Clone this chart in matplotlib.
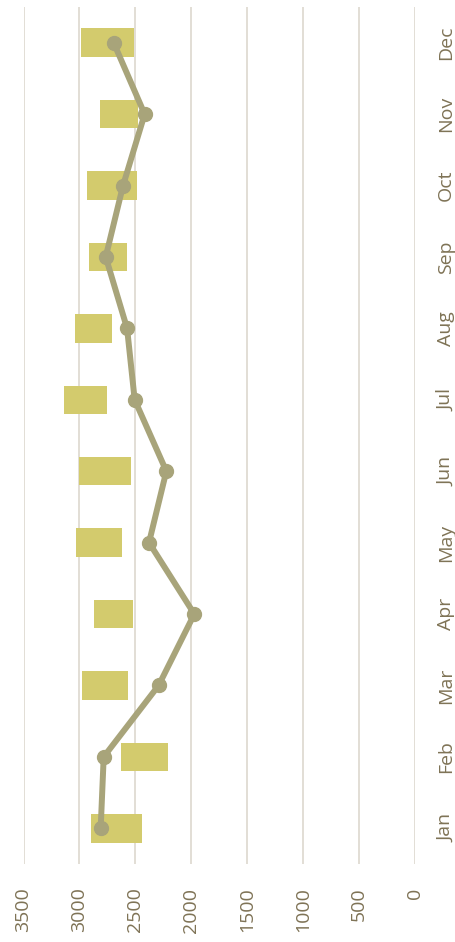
import numpy as np
import matplotlib
matplotlib.use("Agg")
import matplotlib.pyplot as plt

# monthly data
months = ["Jan", "Feb", "Mar", "Apr", "May", "Jun", "Jul", "Aug", "Sep", "Oct", "Nov", "Dec"]
bar_low = [2440, 2212, 2563, 2521, 2619, 2536, 2750, 2712, 2578, 2488, 2479, 2512]
bar_high = [2899, 2625, 2976, 2869, 3030, 3006, 3140, 3042, 2914, 2929, 2819, 2982]
line_vals = [2810, 2783, 2292, 1973, 2378, 2223, 2506, 2574, 2765, 2610, 2417, 2694]
value_ticks = [0, 500, 1000, 1500, 2000, 2500, 3000, 3500]

BAR_COLOR = "#D3CB6D"
LINE_COLOR = "#A8A47A"
GRID_COLOR = "#E2DED5"
TEXT_COLOR = "#7F7356"

plt.rcParams['font.family'] = ['Open Sans', 'DejaVu Sans']

fig = plt.figure(figsize=(4.55, 9.42), dpi=100)
ax = fig.add_axes([23.5 / 455, 1 - 864 / 942, (415 - 23.5) / 455, (864 - 7) / 942])

y = np.arange(len(months))
low = np.array(bar_low)
high = np.array(bar_high)
ax.barh(y, high - low, left=low, height=0.4, color=BAR_COLOR, zorder=2)
ax.plot(line_vals, y, color=LINE_COLOR, linewidth=4.3, marker='o',
        markersize=10, zorder=3, solid_capstyle='round')

ax.set_xlim(3500, 0)
ax.set_ylim(-0.5, len(months) - 0.5)
ax.set_xticks(value_ticks)
ax.set_xticklabels([str(v) for v in value_ticks], rotation=90)
ax.set_yticks(y)
ax.set_yticklabels(months, rotation=90, va='center')
ax.yaxis.tick_right()

ax.grid(axis='x', color=GRID_COLOR, linewidth=1.4, zorder=0)
ax.set_axisbelow(True)
for s in ax.spines.values():
    s.set_visible(False)
ax.tick_params(axis='x', length=0, pad=17, labelsize=14, labelcolor=TEXT_COLOR)
ax.tick_params(axis='y', length=0, pad=16, labelsize=14, labelcolor=TEXT_COLOR)

fig.savefig("out.png", dpi=100)
